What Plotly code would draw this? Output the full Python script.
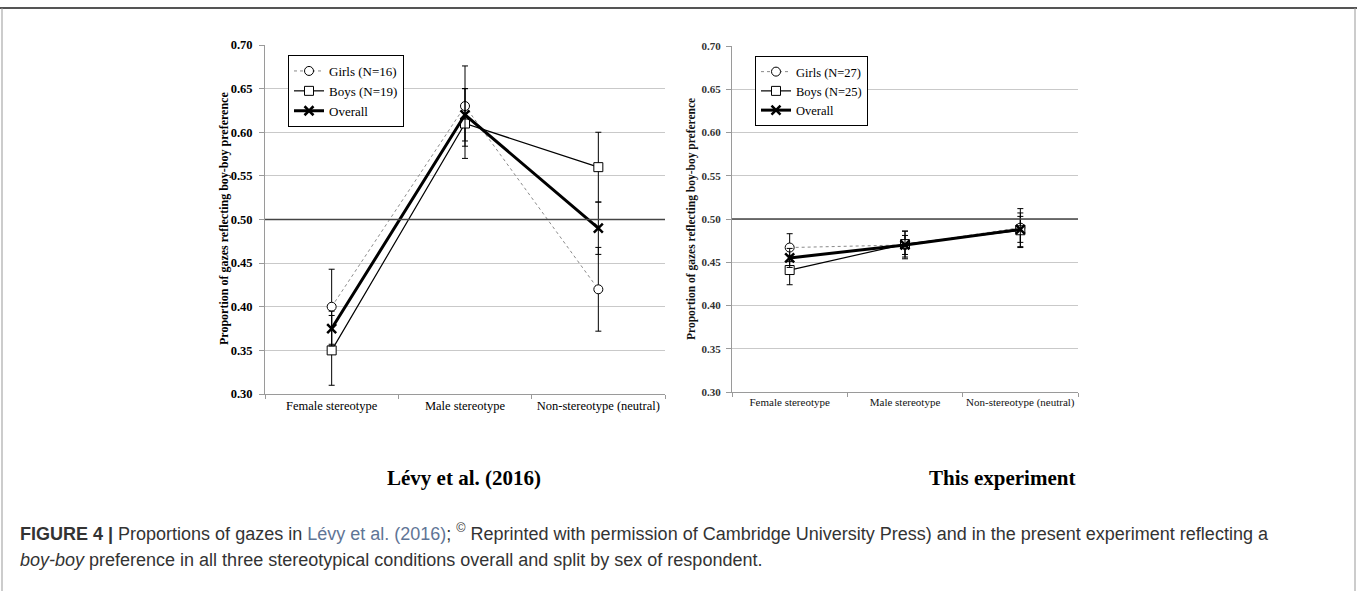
import plotly.graph_objects as go

W, H = 1357, 591

categories = ["Female stereotype", "Male stereotype", "Non-stereotype (neutral)"]
y_ticks = [0.30, 0.35, 0.40, 0.45, 0.50, 0.55, 0.60, 0.65, 0.70]

levy_girls = [0.400, 0.630, 0.420]
levy_girls_err = [0.043, 0.046, 0.048]
levy_boys = [0.350, 0.610, 0.560]
levy_boys_err = [0.040, 0.040, 0.040]
levy_overall = [0.375, 0.620, 0.490]
levy_overall_err = [0.020, 0.030, 0.030]

exp_girls = [0.467, 0.470, 0.490]
exp_girls_err = [0.016, 0.016, 0.022]
exp_boys = [0.441, 0.471, 0.487]
exp_boys_err = [0.017, 0.015, 0.020]
exp_overall = [0.455, 0.470, 0.488]
exp_overall_err = [0.011, 0.011, 0.015]

SERIF = "Liberation Serif, Times New Roman, serif"
SANS = "Liberation Sans, Arial, sans-serif"


def px_x(p):
    return p / W


def px_y(p):
    return 1 - p / H


fig = go.Figure()


def add_panel(xa, ya, legend, girls, girls_err, boys, boys_err, overall, overall_err, nG, nB):
    err = lambda e: dict(type="data", array=e, visible=True, color="black", thickness=1, width=3)
    fig.add_trace(go.Scatter(
        x=categories, y=girls, xaxis=xa, yaxis=ya, legend=legend,
        name=f"Girls (N={nG})", mode="lines+markers",
        line=dict(color="#8a8a8a", width=1, dash="dot"),
        marker=dict(symbol="circle", size=9, color="white", line=dict(color="black", width=1)),
        error_y=err(girls_err)))
    fig.add_trace(go.Scatter(
        x=categories, y=boys, xaxis=xa, yaxis=ya, legend=legend,
        name=f"Boys (N={nB})", mode="lines+markers",
        line=dict(color="black", width=1.2),
        marker=dict(symbol="square", size=9, color="white", line=dict(color="black", width=1)),
        error_y=err(boys_err)))
    fig.add_trace(go.Scatter(
        x=categories, y=overall, xaxis=xa, yaxis=ya, legend=legend,
        name="Overall", mode="lines+markers",
        line=dict(color="black", width=3),
        marker=dict(symbol="x-thin", size=9, color="black", line=dict(color="black", width=2.5)),
        error_y=err(overall_err)))


add_panel("x", "y", "legend", levy_girls, levy_girls_err, levy_boys, levy_boys_err,
          levy_overall, levy_overall_err, 16, 19)
add_panel("x2", "y2", "legend2", exp_girls, exp_girls_err, exp_boys, exp_boys_err,
          exp_overall, exp_overall_err, 27, 25)

common_y = dict(range=[0.30, 0.70], tickvals=y_ticks, tickformat=".2f",
                showgrid=True, gridcolor="#c9c9c9", gridwidth=1,
                showline=True, linecolor="#9a9a9a", linewidth=1,
                ticks="outside", ticklen=5, tickcolor="#9a9a9a", zeroline=False,
                automargin=False)
common_x = dict(type="category", range=[-0.5, 2.5], tickson="boundaries", tickangle=0,
                showline=True, linecolor="#9a9a9a", linewidth=1,
                ticks="outside", ticklen=4, tickcolor="#9a9a9a", showgrid=False,
                automargin=False)

fig.update_layout(
    width=W, height=H, margin=dict(l=0, r=0, t=0, b=0, pad=0, autoexpand=False),
    paper_bgcolor="white", plot_bgcolor="white",
    xaxis=dict(domain=[px_x(265), px_x(665)], anchor="y",
               tickfont=dict(family=SERIF, size=12.5, color="black"), **common_x),
    yaxis=dict(domain=[px_y(394), px_y(45)], anchor="x", ticklabelstandoff=4,
               tickfont=dict(family=SERIF, size=12.5, color="black", weight="bold"), **common_y),
    xaxis2=dict(domain=[px_x(732), px_x(1078)], anchor="y2",
                tickfont=dict(family=SERIF, size=11, color="#111"), **common_x),
    yaxis2=dict(domain=[px_y(392), px_y(46)], anchor="x2", ticklabelstandoff=3,
                tickfont=dict(family=SERIF, size=11, color="#333", weight="bold"), **common_y),
    legend=dict(x=px_x(288), y=px_y(55), xanchor="left", yanchor="top",
                bgcolor="white", bordercolor="black", borderwidth=1,
                font=dict(family=SERIF, size=13, color="black"), itemwidth=30,
                tracegroupgap=0),
    legend2=dict(x=px_x(755), y=px_y(56), xanchor="left", yanchor="top",
                 bgcolor="white", bordercolor="black", borderwidth=1,
                 font=dict(family=SERIF, size=12.5, color="black"), itemwidth=30,
                 tracegroupgap=0),
    showlegend=True,
)

# reference line at 0.50
for xr, yr in (("x domain", "y"), ("x2 domain", "y2")):
    fig.add_shape(type="line", xref=xr, yref=yr, x0=0, x1=1, y0=0.5, y1=0.5,
                  line=dict(color="#444", width=1.5), layer="above")

# figure frame
fig.add_shape(type="line", xref="paper", yref="paper", x0=0, x1=1, y0=px_y(8), y1=px_y(8),
              line=dict(color="#555", width=2))
fig.add_shape(type="line", xref="paper", yref="paper", x0=px_x(2), x1=px_x(2), y0=0, y1=px_y(8),
              line=dict(color="#999", width=1))
fig.add_shape(type="line", xref="paper", yref="paper", x0=px_x(1355), x1=px_x(1355), y0=0, y1=px_y(8),
              line=dict(color="#999", width=1))

ytitle = "Proportion of gazes reflecting boy-boy preference"
fig.add_annotation(x=px_x(215), y=px_y(219), xref="paper", yref="paper", text=f"<b>{ytitle}</b>",
                   textangle=-90, showarrow=False, font=dict(family=SERIF, size=12, color="black"))
fig.add_annotation(x=px_x(691), y=px_y(219), xref="paper", yref="paper", text=f"<b>{ytitle}</b>",
                   textangle=-90, showarrow=False, font=dict(family=SERIF, size=11.5, color="#111"))

fig.add_annotation(x=px_x(464), y=px_y(492), xref="paper", yref="paper", text="<b>Lévy et al. (2016)</b>",
                   showarrow=False, xanchor="center", font=dict(family=SERIF, size=21, color="black"))
fig.add_annotation(x=px_x(1002), y=px_y(492), xref="paper", yref="paper", text="<b>This experiment</b>",
                   showarrow=False, xanchor="center", font=dict(family=SERIF, size=21, color="black"))

cap1 = ("<b>FIGURE 4 |</b> Proportions of gazes in <span style='color:#5f7596'>Lévy et al. (2016)</span>; "
        "<sup>©</sup> Reprinted with permission of Cambridge University Press) and in the present experiment reflecting a")
cap2 = "<i>boy-boy</i> preference in all three stereotypical conditions overall and split by sex of respondent."
fig.add_annotation(x=px_x(18), y=px_y(546), xref="paper", yref="paper", text=cap1, xanchor="left",
                   showarrow=False, font=dict(family=SANS, size=18, color="#333"))
fig.add_annotation(x=px_x(18), y=px_y(572), xref="paper", yref="paper", text=cap2, xanchor="left",
                   showarrow=False, font=dict(family=SANS, size=18, color="#333"))

fig.write_html("out.html")
